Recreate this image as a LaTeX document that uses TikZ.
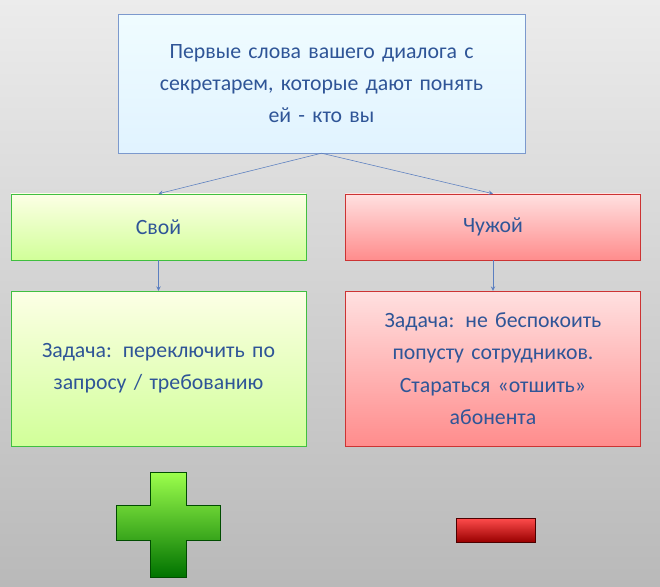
\documentclass[tikz,border=0pt]{standalone}
\usepackage{fontspec}
\setmainfont{Carlito}
\usetikzlibrary{calc}
\definecolor{txtblue}{HTML}{2F5597}
\definecolor{linkblue}{HTML}{5B7FC0}
\tikzset{
  box/.style={draw,align=center,text=txtblue,font=\fontsize{15.5}{23}\selectfont,inner sep=4pt},
  topbox/.style={box,draw=linkblue!80,top color=blue!18!cyan!6!white,bottom color=blue!40!cyan!12!white,text width=9.8cm},
  greenbox/.style={box,draw=green!50!gray,top color=green!10!yellow!10!white,bottom color=green!45!yellow!40!white,text width=7.1cm},
  redbox/.style={box,draw=red!60!gray,top color=red!12!white,bottom color=red!45!white,text width=7.1cm},
  link/.style={->,>=stealth,linkblue,thin}
}
\begin{document}
\begin{tikzpicture}[x=0.025cm,y=-0.025cm]
  \shade[top color=gray!15,bottom color=gray!55] (0,0) rectangle (660,587);
  \useasboundingbox (0,0) rectangle (660,587);
  % boxes
  \node[topbox,minimum width=10.17cm,minimum height=3.47cm] (dialog) at (321.5,83.5)
    {Первые слова вашего диалога с\\секретарем, которые дают понять\\ей - кто вы};
  \node[greenbox,minimum width=7.32cm,minimum height=1.65cm] (svoy) at (158.5,227) {Свой};
  \node[redbox,minimum width=7.35cm,minimum height=1.65cm] (chuzh) at (493,227) {Чужой};
  \node[greenbox,minimum width=7.32cm,minimum height=3.87cm] (task1) at (158.5,368.5)
    {Задача: переключить по\\запросу / требованию};
  \node[redbox,minimum width=7.35cm,minimum height=3.87cm] (task2) at (493,368.5)
    {Задача: не беспокоить\\попусту сотрудников.\\Стараться «отшить»\\абонента};
  % connectors
  \coordinate (split) at (dialog.south);
  \draw[link] (split) -- (svoy.north);
  \draw[link] (split) -- (chuzh.north);
  \draw[link] (svoy) -- (task1);
  \draw[link] (chuzh) -- (task2);
  % plus and minus
  \shade[top color=green!55!yellow!70!white,bottom color=green!45!black,draw=green!30!black]
    (150,472) -- (186,472) -- (186,505) -- (220,505) -- (220,540) -- (186,540) -- (186,577)
    -- (150,577) -- (150,540) -- (116,540) -- (116,505) -- (150,505) -- cycle;
  \shade[top color=red!70!white,bottom color=red!60!black,draw=red!30!black]
    (456,518) rectangle (535,542);
\end{tikzpicture}
\end{document}
